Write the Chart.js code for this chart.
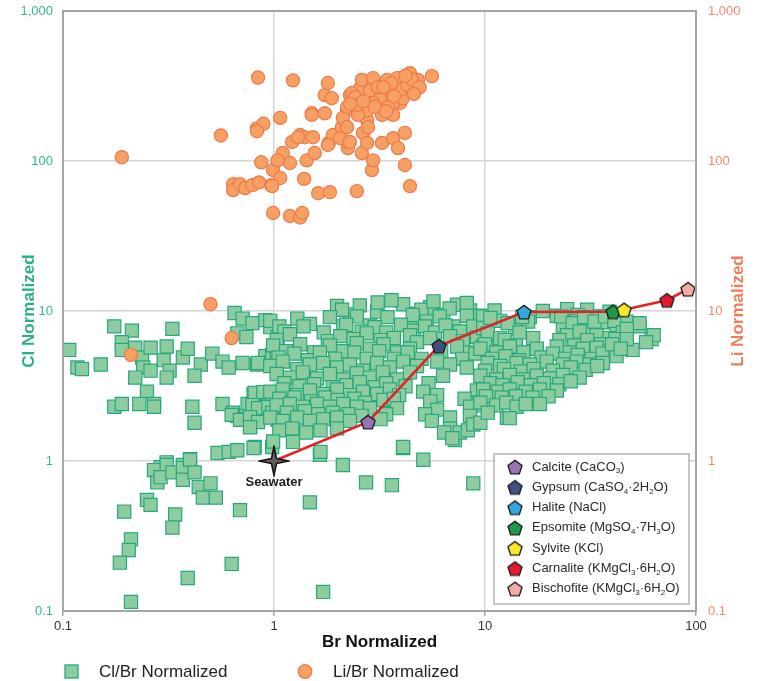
<!DOCTYPE html>
<html>
<head>
<meta charset="utf-8">
<script src="https://cdn.jsdelivr.net/npm/chart.js@4.4.1/dist/chart.umd.min.js"></script>
<style>
  html, body { margin: 0; padding: 0; background: #fff; }
  #wrap { width: 757px; height: 681px; position: relative; }
</style>
</head>
<body>
<div id="wrap"><canvas id="graficoBrCl"></canvas></div>
<script>
// Eixos (escala log, só as décadas)
const xTicks = [0.1, 1, 10, 100];
const xTickLabels = ['0.1', '1', '10', '100'];
const yTicks = [0.1, 1, 10, 100, 1000];
const yTickLabels = ['0.1', '1', '10', '100', '1,000'];

// Água do mar (referência 1:1)
const seawater = [1, 1];

// Caminho de evaporação: minerais em ordem de precipitação
const mineralLabels = [
    'Calcite (CaCO_3)',
    'Gypsum (CaSO_4·2H_2O)',
    'Halite (NaCl)',
    'Epsomite (MgSO_4·7H_3O)',
    'Sylvite (KCl)',
    'Carnalite (KMgCl_3·6H_2O)',
    'Bischofite (KMgCl_3·6H_2O)'
];
const mineralBr = [2.79, 6.05, 15.3, 40.4, 45.6, 72.8, 91.6];
const mineralCl = [1.82, 5.85, 9.85, 9.9, 10.2, 11.8, 14.0];
const mineralColors = ['#9a73b3', '#3f517f', '#2fa7df', '#1c9a4a', '#f6ea2a', '#e3192d', '#f4aaa9'];

// Amostras: [Br normalizado, Cl normalizado]
const clBr = [
    [0.107, 5.5], [0.117, 4.2], [0.123, 4.1], [0.151, 4.4], [0.175, 7.9], [0.212, 7.4], [0.19, 6.2], [0.19, 5.5],
    [0.22, 5.7], [0.237, 4.9], [0.24, 4.2], [0.26, 4.0], [0.22, 3.6], [0.26, 5.7], [0.31, 5.8], [0.33, 7.6],
    [0.30, 4.7], [0.32, 4.0], [0.31, 3.6], [0.37, 4.9], [0.39, 5.6], [0.45, 4.4], [0.42, 3.7], [0.42, 1.8],
    [0.41, 2.3], [0.51, 5.2], [0.57, 4.6], [0.61, 4.2], [0.71, 4.5], [0.83, 4.4], [0.91, 5.0], [0.25, 2.9],
    [0.175, 2.3], [0.19, 2.4], [0.23, 2.4], [0.27, 2.4], [0.27, 2.3], [0.65, 9.7], [0.71, 8.9], [0.79, 8.3],
    [0.91, 8.7], [0.96, 7.8], [0.67, 7.1], [0.74, 6.7], [0.84, 4.5], [0.98, 5.1], [0.80, 2.8], [0.88, 2.8],
    [0.94, 2.7], [0.75, 2.4], [0.67, 2.0], [0.70, 1.9], [0.77, 1.7], [0.84, 2.0], [0.57, 2.4], [0.64, 2.1],
    [0.54, 1.13], [0.61, 1.15], [0.67, 1.18], [0.81, 1.24], [0.98, 1.24], [0.29, 0.91], [0.31, 0.98], [0.37, 0.94],
    [0.40, 1.03], [0.27, 0.87], [0.28, 0.72], [0.31, 0.94], [0.29, 0.78], [0.33, 0.84], [0.37, 0.90], [0.37, 0.75],
    [0.40, 1.02], [0.42, 0.84], [0.44, 0.67], [0.50, 0.71], [0.46, 0.57], [0.53, 0.57], [0.80, 1.22], [1.23, 1.34],
    [1.65, 1.10], [2.12, 0.94], [4.09, 1.22], [5.1, 1.02], [2.73, 0.72], [3.62, 0.69], [8.8, 0.71], [1.48, 0.53],
    [0.69, 0.47], [0.25, 0.55], [0.26, 0.51], [0.195, 0.46], [0.34, 0.44], [0.33, 0.36], [0.21, 0.30], [0.205, 0.255],
    [0.186, 0.21], [0.63, 0.206], [0.39, 0.166], [0.21, 0.115], [1.71, 0.134], [7.2, 1.38],
    [0.81, 2.84], [0.89, 2.88], [0.98, 2.67], [1.04, 2.63], [0.79, 2.36], [0.84, 2.25], [0.94, 2.29], [0.63, 2.03],
    [0.69, 1.88], [0.77, 1.96], [0.84, 1.82], [0.77, 1.68], [1.04, 1.88], [0.98, 2.09], [1.04, 6.7], [1.03, 5.25],
    [1.99, 10.8], [2.29, 9.5], [2.55, 10.9], [3.08, 9.9], [4.09, 11.1], [4.76, 9.6], [5.49, 10.6], [6.33, 9.4],
    [7.37, 11.0], [8.49, 10.1], [9.5, 9.3], [2.1, 10.2], [3.1, 11.4], [5.0, 10.2], [8.2, 11.3], [3.6, 11.8],
    [5.7, 11.6], [6.8, 10.4],
    [0.96, 8.6], [1.06, 7.9], [1.29, 8.9], [1.48, 8.2], [1.84, 9.1], [2.13, 7.9], [2.47, 9.2], [2.85, 8.0],
    [3.45, 9.1], [4.41, 8.0], [4.55, 9.4], [5.3, 8.5], [6.1, 9.2], [7.1, 7.9], [8.2, 9.3], [9.8, 8.1],
    [1.12, 7.3], [1.38, 7.9], [1.72, 7.2], [2.2, 8.1], [2.6, 7.3], [3.0, 7.8], [3.4, 7.2], [4.0, 8.1],
    [4.6, 7.4], [5.2, 7.9], [5.8, 7.2], [6.5, 8.0], [7.6, 7.3], [8.8, 7.9],
    [1.03, 6.4], [1.19, 7.0], [1.80, 6.3], [2.06, 6.8], [2.38, 6.5], [2.75, 7.1], [3.2, 6.4], [3.7, 6.6],
    [4.41, 6.9], [4.76, 6.2], [5.49, 6.6], [6.83, 6.8], [7.86, 6.3], [9.16, 6.7], [10.2, 6.4],
    [0.99, 5.9], [1.14, 5.4], [1.33, 6.0], [1.55, 5.3], [1.84, 5.9], [2.13, 5.4], [2.47, 6.1], [2.85, 5.6],
    [3.3, 6.0], [3.83, 5.3], [4.41, 5.6], [7.37, 5.8], [8.49, 5.3], [9.78, 5.8],
    [1.05, 4.9], [1.25, 5.2], [1.45, 4.7], [1.65, 5.3], [1.95, 4.8], [2.4, 5.3], [2.75, 4.8], [3.15, 5.4],
    [3.7, 4.8], [4.3, 5.3], [5.0, 4.8], [6.2, 5.4], [7.8, 4.8], [9.0, 5.2],
    [0.96, 4.3], [1.10, 4.6], [1.29, 4.1], [1.48, 4.4], [1.71, 4.5], [1.99, 4.2], [2.29, 4.4], [2.64, 4.0],
    [3.08, 4.5], [3.54, 4.2], [4.09, 4.6], [4.76, 4.3], [5.93, 4.6], [6.83, 4.4], [8.2, 4.2],
    [1.03, 3.8], [1.19, 3.6], [1.37, 3.9], [1.60, 3.55], [1.84, 3.8], [2.13, 3.5], [2.47, 3.85], [2.85, 3.6],
    [3.28, 3.9], [3.83, 3.5], [4.41, 3.9], [6.33, 3.7], [9.78, 3.6],
    [1.12, 3.3], [1.32, 3.15], [1.55, 3.25], [1.9, 3.1], [2.2, 3.2], [2.55, 3.35], [3.0, 3.1], [3.4, 3.3],
    [4.2, 3.15], [5.4, 3.3],
    [0.96, 2.9], [1.10, 3.0], [1.29, 2.75], [1.48, 2.95], [1.71, 2.8], [1.99, 3.0], [2.29, 2.75], [2.64, 2.9],
    [3.08, 2.8], [3.54, 3.0], [3.92, 2.75], [5.09, 2.9], [5.93, 2.75], [9.16, 2.95],
    [1.06, 2.6], [1.25, 2.65], [1.5, 2.5], [1.75, 2.65], [2.0, 2.55], [2.4, 2.6], [2.7, 2.45], [3.3, 2.55],
    [3.7, 2.6], [5.5, 2.5], [8.0, 2.6], [9.4, 2.45],
    [1.03, 2.35], [1.19, 2.4], [1.37, 2.3], [1.60, 2.4], [1.84, 2.3], [2.13, 2.4], [2.47, 2.3], [2.85, 2.25],
    [3.83, 2.25], [5.93, 2.2], [8.49, 2.3], [9.78, 2.35],
    [1.15, 2.1], [1.4, 2.15], [1.62, 2.05], [1.9, 2.1], [2.25, 2.05], [2.6, 2.0], [3.4, 2.05],
    [0.96, 1.95], [1.10, 1.85], [1.29, 1.95], [1.48, 1.85], [1.71, 1.9], [1.99, 1.95], [2.29, 1.85], [3.2, 1.9],
    [6.83, 1.95], [8.49, 2.0], [4.09, 1.24],
    [1.06, 1.6], [1.22, 1.65], [1.42, 1.55], [1.66, 1.6], [1.99, 1.65], [6.83, 1.65], [7.6, 1.55],
    [0.99, 1.35], [1.66, 1.15],
    [5.2, 2.05], [5.6, 1.85], [6.4, 1.55], [7.0, 1.42], [8.3, 1.6], [8.8, 1.75], [12.7, 1.94], [9.5, 1.8],
    [9.8, 9.2], [11.1, 10.1], [16.3, 9.1], [18.8, 10.0], [21.9, 9.3], [30.5, 10.2], [34.9, 9.2], [38.9, 9.9],
    [24.5, 10.3], [27.5, 9.4],
    [9.8, 7.7], [11.8, 8.6], [13.9, 7.6], [16.0, 8.5], [23.4, 8.0], [27.2, 8.6], [31.3, 7.7], [36.2, 8.4],
    [42, 7.9], [46.9, 8.5], [54, 7.9],
    [10.6, 9.0], [12.8, 8.3], [15.0, 9.1], [23.0, 9.2], [26.0, 8.3], [29.5, 9.1], [33.0, 8.5], [37.0, 9.2],
    [41.0, 8.6],
    [10.3, 7.1], [11.8, 6.6], [14.6, 7.2], [16.9, 6.6], [24.5, 6.9], [28.1, 7.3], [33.8, 6.9], [38.9, 6.6],
    [45, 7.2], [61.6, 6.5], [63, 6.9],
    [10.0, 6.0], [12.4, 6.4], [14.0, 5.9], [22.5, 6.4], [26.5, 5.9], [30.5, 6.4], [35.5, 6.0], [41.5, 6.5],
    [9.5, 5.6], [11.3, 5.3], [13.1, 5.8], [15.2, 5.3], [17.6, 5.6], [21.9, 5.8], [25.2, 5.3], [29.1, 5.6],
    [33.8, 5.7], [38.9, 5.4], [50, 5.5],
    [10.8, 4.8], [12.5, 5.0], [14.5, 4.7], [18.5, 4.9], [21.0, 5.2], [24.0, 4.8], [27.5, 5.1], [32.0, 4.8],
    [36.0, 5.2], [42.0, 5.0],
    [10.3, 4.5], [11.8, 4.3], [14.1, 4.5], [16.3, 4.4], [19.6, 4.6], [23.4, 4.4], [27.2, 4.6], [31.3, 4.4],
    [36.2, 4.5],
    [10.0, 4.0], [12.3, 4.1], [14.8, 3.95], [17.0, 4.1], [21.0, 4.0], [25.5, 4.2], [30.0, 4.05], [34.0, 4.3],
    [9.5, 3.7], [11.3, 3.5], [13.1, 3.75], [15.2, 3.5], [17.6, 3.7], [20.3, 3.55], [23.4, 3.75], [28.1, 3.6],
    [10.6, 3.3], [12.1, 3.2], [14.3, 3.35], [16.5, 3.2], [19.0, 3.3], [22.5, 3.25], [25.5, 3.4],
    [9.8, 3.0], [11.5, 2.9], [13.1, 3.0], [15.6, 2.9], [18.2, 3.0], [21.9, 2.95],
    [10.1, 2.7], [12.0, 2.65], [14.0, 2.7], [16.8, 2.65], [20.0, 2.7],
    [9.5, 2.45], [11.3, 2.35], [12.6, 2.45], [14.1, 2.3], [15.6, 2.4], [18.2, 2.4],
    [10.3, 2.1], [13.1, 1.93],
    [54, 8.3], [47, 7.6], [47, 6.5], [40, 6.0], [44, 5.6], [58, 6.2]
];

// Amostras: [Br normalizado, Li normalizado]
const liBr = [
    [0.19, 106], [0.84, 360], [1.23, 345], [0.56, 148], [0.83, 165], [0.89, 177], [0.83, 158], [1.07, 194],
    [0.87, 98], [0.99, 87], [1.07, 77], [0.64, 70], [0.64, 64], [0.69, 70], [0.73, 66], [0.79, 69],
    [0.85, 72], [0.97, 69], [0.99, 45], [1.19, 43], [1.33, 42], [1.36, 45], [1.39, 76], [1.62, 61],
    [1.84, 62], [2.47, 63], [1.10, 113], [1.19, 97], [1.22, 134], [1.33, 149], [1.40, 144], [1.53, 144],
    [1.43, 101], [1.56, 113], [1.51, 208], [1.74, 208], [1.74, 275], [1.88, 262], [1.80, 331], [1.82, 132],
    [1.90, 149], [2.24, 132], [2.24, 122], [2.61, 113], [2.22, 218], [2.50, 208], [2.29, 275], [2.56, 305],
    [2.64, 154], [2.76, 132], [2.91, 87], [2.95, 101], [2.10, 168], [2.12, 194], [2.76, 188],
    [1.51, 203], [2.22, 229], [2.34, 284], [2.61, 347], [2.95, 357], [3.43, 347], [3.96, 357], [4.41, 385],
    [4.76, 331], [5.6, 368], [4.27, 295], [3.83, 288], [3.36, 284], [2.85, 295], [3.18, 262], [3.96, 244],
    [3.67, 203], [2.76, 218], [2.50, 203], [1.80, 128], [2.22, 134], [3.25, 132], [3.67, 142], [4.17, 154],
    [3.87, 122], [4.17, 94], [4.41, 68], [1.30, 144], [1.04, 101], [0.98, 68], [3.67, 244], [3.47, 229],
    [4.08, 262], [4.41, 335], [4.65, 305], [4.81, 347], [3.96, 322], [3.83, 357], [3.11, 311], [2.42, 266],
    [2.50, 237], [2.95, 244], [3.25, 203], [2.79, 168], [2.22, 168], [2.06, 142], [2.29, 134],
    [4.0, 300], [4.3, 320], [4.5, 350], [4.2, 370], [3.6, 330], [3.3, 310], [4.9, 310], [4.6, 280],
    [3.7, 270], [3.0, 230], [3.4, 215], [2.65, 250], [2.3, 240],
    [0.50, 11.1], [0.63, 6.6], [0.21, 5.1]
];

const fonte = '"Liberation Sans", Arial, sans-serif';
Chart.defaults.font.family = fonte;

const corVerde = '#8dcc9f';
const bordaVerde = '#27a97d';
const corLaranja = '#f7a064';
const bordaLaranja = '#ee7a4c';

// Pentágono desenhado num canvas pequeno, usado como pointStyle
function pentagono(cor) {
    const c = document.createElement('canvas');
    c.width = 18; c.height = 18;
    const g = c.getContext('2d');
    const r = 7.4;
    g.beginPath();
    for (let i = 0; i < 5; i++) {
        const ang = -Math.PI / 2 + i * 2 * Math.PI / 5;
        g.lineTo(9 + r * Math.cos(ang), 9.8 + r * Math.sin(ang));
    }
    g.closePath();
    g.fillStyle = cor;
    g.fill();
    g.lineWidth = 1.3;
    g.strokeStyle = '#1c1c1c';
    g.stroke();
    return c;
}

// Estrela de 4 pontas da água do mar
function estrela() {
    const c = document.createElement('canvas');
    c.width = 32; c.height = 32;
    const g = c.getContext('2d');
    g.beginPath();
    for (let i = 0; i < 8; i++) {
        const ang = -Math.PI / 2 + i * Math.PI / 4;
        const r = i % 2 === 0 ? 14.5 : 3.6;
        g.lineTo(16 + r * Math.cos(ang), 16 + r * Math.sin(ang));
    }
    g.closePath();
    g.fillStyle = '#5c5c5c';
    g.fill();
    g.lineWidth = 1.5;
    g.strokeStyle = '#111';
    g.stroke();
    return c;
}

const pentagonos = mineralColors.map(pentagono);
const marcaAgua = estrela();

// Texto com subscritos marcados por "_"
function textoSubscrito(ctx, texto, x, y) {
    const partes = texto.split(/_(\d)/);
    let cx = x;
    partes.forEach((p, i) => {
        if (i % 2 === 0) {
            ctx.font = '13px ' + fonte;
            ctx.fillText(p, cx, y);
        } else {
            ctx.font = '8px ' + fonte;
            ctx.fillText(p, cx, y + 4);
        }
        cx += ctx.measureText(p).width;
    });
}

const extras = {
    id: 'extras',
    afterDatasetsDraw(chart) {
        const { ctx, chartArea: a } = chart;
        ctx.save();

        // moldura da área de plotagem
        ctx.strokeStyle = '#a5a5a5';
        ctx.lineWidth = 2;
        ctx.strokeRect(a.left, a.top, a.right - a.left, a.bottom - a.top);

        // rótulo da água do mar
        const sx = chart.scales.x.getPixelForValue(seawater[0]);
        const sy = chart.scales.y.getPixelForValue(seawater[1]);
        ctx.fillStyle = '#1e1e1e';
        ctx.font = 'bold 13px ' + fonte;
        ctx.textAlign = 'center';
        ctx.textBaseline = 'middle';
        ctx.fillText('Seawater', sx, sy + 21);

        // legenda dos minerais
        const bx = a.right - 202, by = a.bottom - 157, bw = 195, bh = 150;
        ctx.fillStyle = '#fff';
        ctx.fillRect(bx, by, bw, bh);
        ctx.strokeStyle = '#b3b3b3';
        ctx.lineWidth = 1.5;
        ctx.strokeRect(bx, by, bw, bh);
        ctx.textAlign = 'left';
        ctx.fillStyle = '#2a2a2a';
        mineralLabels.forEach((txt, i) => {
            const yy = by + 13 + i * 20.3;
            const p = pentagonos[i];
            ctx.drawImage(p, bx + 21 - p.width / 2, yy - p.height / 2);
            textoSubscrito(ctx, txt, bx + 38, yy);
        });

        // título do eixo direito (lido de baixo para cima)
        ctx.save();
        ctx.translate(738, (a.top + a.bottom) / 2);
        ctx.rotate(-Math.PI / 2);
        ctx.textAlign = 'center';
        ctx.fillStyle = '#f27b5b';
        ctx.font = 'bold 17px ' + fonte;
        ctx.fillText('Li Normalized', 0, 0);
        ctx.restore();

        // legenda inferior
        const ly = chart.height - 9.5;
        ctx.fillStyle = corVerde;
        ctx.strokeStyle = bordaVerde;
        ctx.lineWidth = 1.3;
        ctx.fillRect(a.left + 2, ly - 6.5, 13, 13);
        ctx.strokeRect(a.left + 2, ly - 6.5, 13, 13);
        ctx.beginPath();
        ctx.arc(a.left + 242, ly, 6.8, 0, Math.PI * 2);
        ctx.fillStyle = corLaranja;
        ctx.fill();
        ctx.strokeStyle = bordaLaranja;
        ctx.stroke();
        ctx.fillStyle = '#222';
        ctx.font = '17px ' + fonte;
        ctx.fillText('Cl/Br Normalized', a.left + 36, ly + 1);
        ctx.fillText('Li/Br Normalized', a.left + 270, ly + 1);

        ctx.restore();
    }
};

function soDecadas(lista) {
    return (scale) => { scale.ticks = lista.map(v => ({ value: v })); };
}

// tamanho fixo dos eixos, sem folga extra para os rótulos
function tamanhoFixo(prop, valor) {
    return (scale) => {
        scale[prop] = valor;
        scale.paddingTop = 0;
        scale.paddingBottom = 0;
        scale.paddingLeft = 0;
        scale.paddingRight = 0;
    };
}

const caminho = [{ x: seawater[0], y: seawater[1] }]
    .concat(mineralBr.map((b, i) => ({ x: b, y: mineralCl[i] })));

new Chart(document.getElementById('graficoBrCl'), {
    type: 'scatter',
    data: {
        datasets: [
            {
                label: 'Minerals',
                data: mineralBr.map((b, i) => ({ x: b, y: mineralCl[i] })),
                pointStyle: pentagonos,
                pointRadius: 7,
                order: 0
            },
            {
                label: 'Seawater',
                data: [{ x: seawater[0], y: seawater[1] }],
                pointStyle: marcaAgua,
                pointRadius: 10,
                order: 0
            },
            {
                label: 'Evaporation path',
                data: caminho,
                showLine: true,
                borderColor: '#e4222a',
                borderWidth: 2.6,
                pointRadius: 0,
                fill: false,
                order: 1
            },
            {
                label: 'Li/Br Normalized',
                data: liBr.map(p => ({ x: p[0], y: p[1] })),
                yAxisID: 'y2',
                pointStyle: 'circle',
                pointRadius: 6.6,
                backgroundColor: corLaranja,
                borderColor: bordaLaranja,
                borderWidth: 1.2,
                order: 2
            },
            {
                label: 'Cl/Br Normalized',
                data: clBr.map(p => ({ x: p[0], y: p[1] })),
                pointStyle: 'rect',
                pointRadius: 9.3,
                backgroundColor: corVerde,
                borderColor: bordaVerde,
                borderWidth: 1.2,
                order: 3
            }
        ]
    },
    options: {
        responsive: true,
        maintainAspectRatio: false,
        animation: false,
        events: [],
        layout: { padding: { top: 11, right: 0, bottom: 24, left: 0 } },
        plugins: {
            legend: { display: false },
            tooltip: { enabled: false }
        },
        scales: {
            x: {
                type: 'logarithmic',
                min: 0.1,
                max: 100,
                afterBuildTicks: soDecadas(xTicks),
                afterFit: tamanhoFixo('height', 46),
                border: { display: false },
                grid: { color: '#d6d6d6', lineWidth: 1.5, drawTicks: true, tickLength: 5, tickColor: '#a5a5a5' },
                ticks: {
                    color: '#333',
                    font: { size: 13 },
                    padding: 3,
                    maxRotation: 0,
                    callback: (v, i) => xTickLabels[i]
                },
                title: {
                    display: true,
                    text: 'Br Normalized',
                    color: '#111',
                    font: { size: 17, weight: 'bold' },
                    padding: { top: 0, bottom: 4 }
                }
            },
            y: {
                type: 'logarithmic',
                position: 'left',
                min: 0.1,
                max: 1000,
                afterBuildTicks: soDecadas(yTicks),
                afterFit: tamanhoFixo('width', 63),
                border: { display: false },
                grid: { color: '#d6d6d6', lineWidth: 1.5, drawTicks: false },
                ticks: {
                    color: '#35b78d',
                    font: { size: 13 },
                    padding: 10,
                    callback: (v, i) => yTickLabels[i]
                },
                title: {
                    display: true,
                    text: 'Cl Normalized',
                    color: '#2aaf86',
                    font: { size: 17, weight: 'bold' },
                    padding: { top: 19, bottom: 0 }
                }
            },
            y2: {
                type: 'logarithmic',
                position: 'right',
                min: 0.1,
                max: 1000,
                afterBuildTicks: soDecadas(yTicks),
                afterFit: tamanhoFixo('width', 61),
                border: { display: false },
                grid: { display: false, drawTicks: false, drawOnChartArea: false },
                ticks: {
                    color: '#f5876c',
                    font: { size: 13 },
                    padding: 12,
                    callback: (v, i) => yTickLabels[i]
                }
            }
        }
    },
    plugins: [extras]
});
</script>
</body>
</html>
